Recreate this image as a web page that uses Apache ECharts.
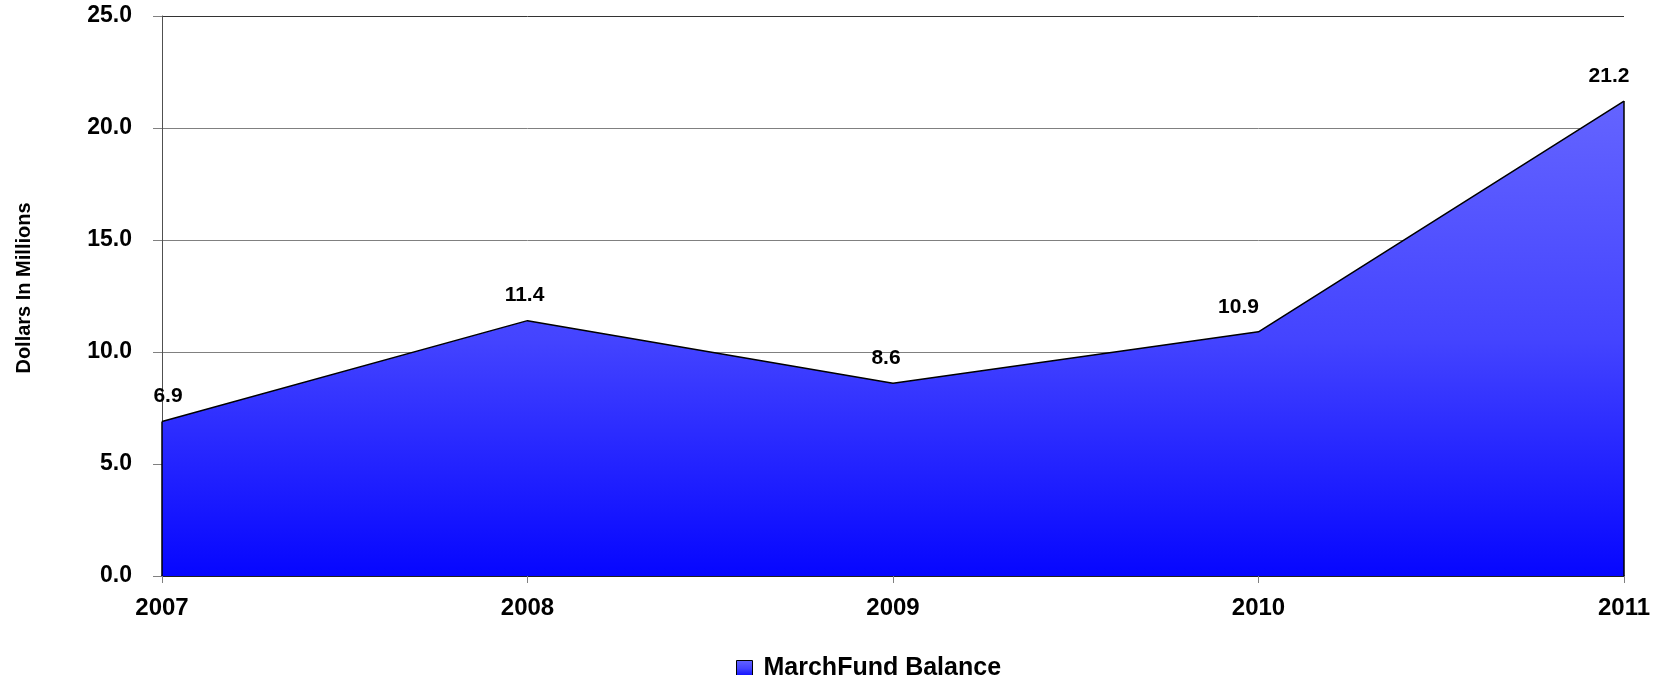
<!DOCTYPE html>
<html>
<head>
<meta charset="utf-8">
<script src="https://cdn.jsdelivr.net/npm/echarts@6/dist/echarts.min.js"></script>
<style>
  html, body { margin: 0; padding: 0; background: #fff; }
  #chart { width: 1667px; height: 675px; }
</style>
</head>
<body>
<div id="chart"></div>
<script>
// data
var years = ['2007', '2008', '2009', '2010', '2011'];
var balance = [6.9, 11.4, 8.6, 10.9, 21.2];
var yTicks = [0, 5, 10, 15, 20, 25];

var font = "'Liberation Sans', Arial, sans-serif";

// value labels sit a bit off-centre in the original
var labelShift = [6, -3, -7, -20, -15];

var chart = echarts.init(document.getElementById('chart'));

var fill = new echarts.graphic.LinearGradient(0, 0, 0, 1, [
    { offset: 0, color: '#6464ff' },
    { offset: 0.5, color: '#4444ff' },
    { offset: 1, color: '#0606ff' }
]);

var option = {
    animation: false,
    backgroundColor: '#fff',
    grid: { left: 162, right: 43, top: 16, bottom: 99, containLabel: false, outerBoundsMode: 'none' },
    legend: {
        left: 731,
        top: 651,
        icon: 'rect',
        itemWidth: 16,
        itemHeight: 16,
        itemStyle: { borderColor: '#000', borderWidth: 1 },
        textStyle: { fontFamily: font, fontWeight: 'bold', fontSize: 25, color: '#000', padding: [0, 0, 0, 6] },
        data: ['MarchFund Balance']
    },
    xAxis: {
        type: 'category',
        data: years,
        boundaryGap: false,
        axisLine: { lineStyle: { color: '#000', width: 1.5 } },
        axisTick: { length: 7, lineStyle: { color: '#808080' } },
        axisLabel: { margin: 20, fontFamily: font, fontWeight: 'bold', fontSize: 24, color: '#000' }
    },
    yAxis: {
        type: 'value',
        min: yTicks[0],
        max: yTicks[yTicks.length - 1],
        interval: 5,
        name: 'Dollars In Millions',
        nameLocation: 'middle',
        nameGap: 128,
        nameTextStyle: { fontFamily: font, fontWeight: 'bold', fontSize: 20, color: '#000', padding: [0, 0, 0, 16] },
        axisLine: { show: true, lineStyle: { color: '#505050' } },
        axisTick: { show: true, length: 9, lineStyle: { color: '#808080' } },
        axisLabel: {
            margin: 30,
            fontFamily: font, fontWeight: 'bold', fontSize: 23, color: '#000',
            formatter: function (v) { return v.toFixed(1); }
        },
        splitLine: {
            lineStyle: { color: ['#808080', '#808080', '#808080', '#808080', '#808080', '#333'], width: 1 }
        }
    },
    series: [{
        name: 'MarchFund Balance',
        type: 'line',
        data: balance.map(function (v, i) {
            return { value: v, label: { show: true, offset: [labelShift[i], 0] } };
        }),
        symbol: 'circle',
        symbolSize: 0,
        showSymbol: true,
        lineStyle: { color: '#000', width: 1.5 },
        itemStyle: { color: fill, borderColor: '#000', borderWidth: 0 },
        areaStyle: { color: fill, opacity: 1 },
        label: {
            show: true,
            position: 'top',
            distance: 15,
            lineHeight: 20,
            fontFamily: font, fontWeight: 'bold', fontSize: 21, color: '#000',
            formatter: function (p) { return p.value.toFixed(1); }
        },
        markLine: {
            silent: true,
            symbol: 'none',
            label: { show: false },
            lineStyle: { color: '#000', width: 1.5, type: 'solid' },
            data: [
                [{ coord: [years[0], 0] }, { coord: [years[0], balance[0]] }],
                [{ coord: [years[4], 0] }, { coord: [years[4], balance[4]] }]
            ]
        }
    }]
};

chart.setOption(option);
</script>
</body>
</html>
